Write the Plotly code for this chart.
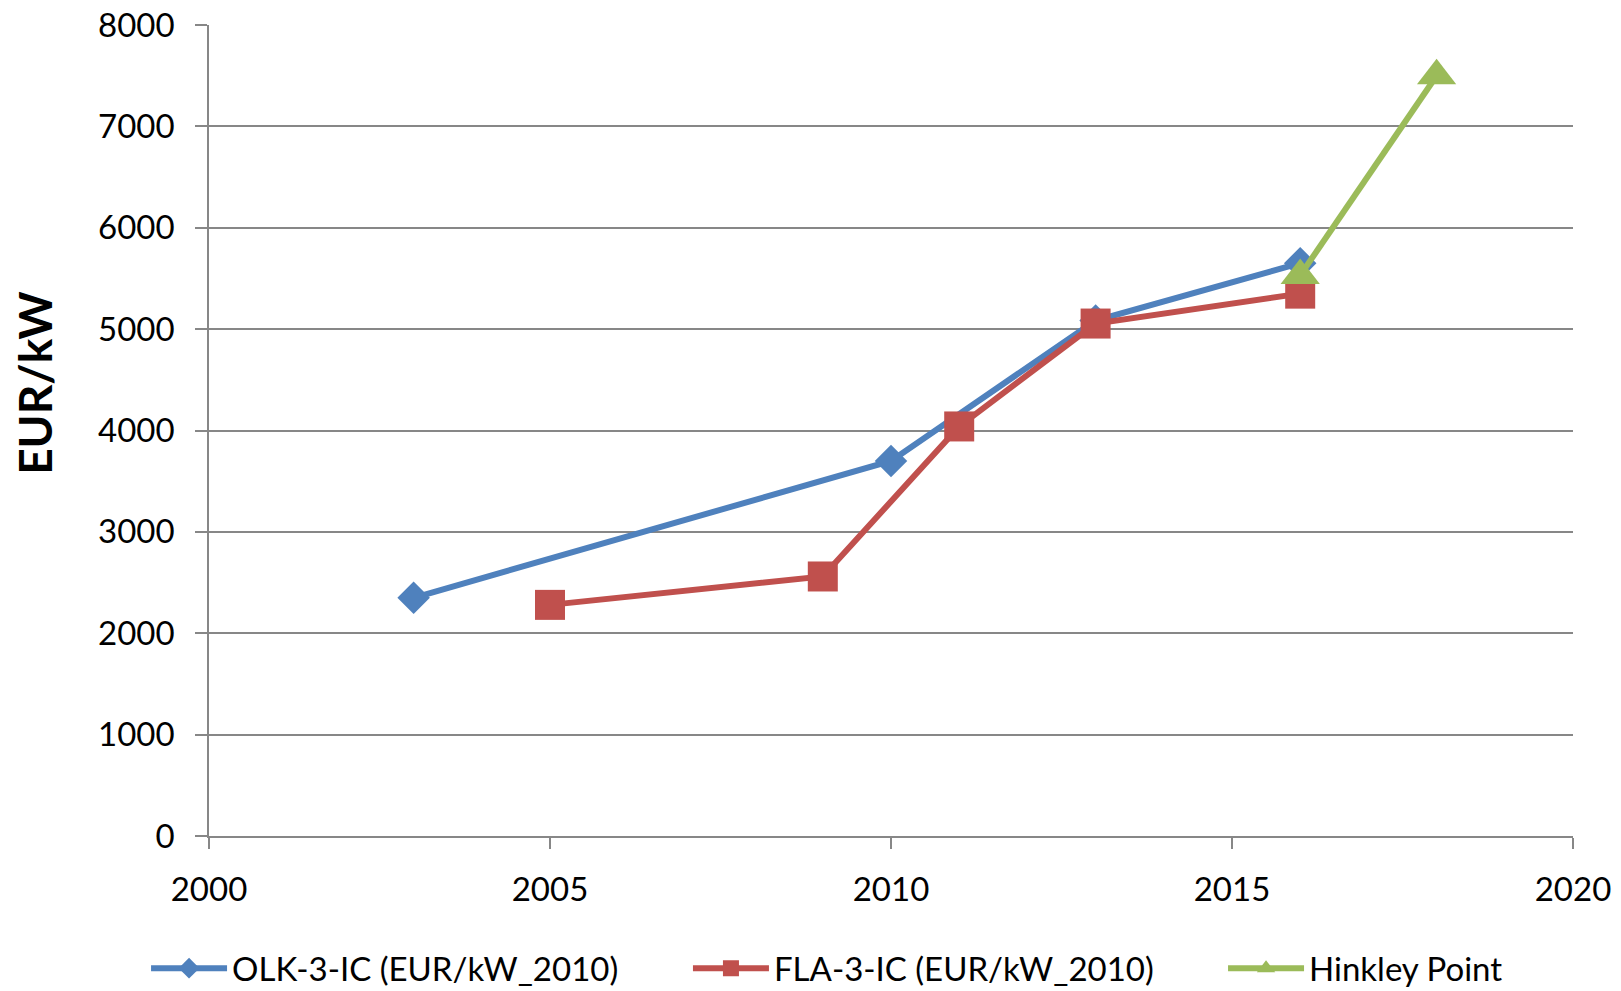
import plotly.graph_objects as go

# Overnight investment cost per kW (EUR, 2010 prices) by year
olk_years = [2003, 2010, 2013, 2016]
olk_cost = [2350, 3700, 5085, 5650]

fla_years = [2005, 2009, 2011, 2013, 2016]
fla_cost = [2280, 2560, 4040, 5055, 5350]

hinkley_years = [2016, 2018]
hinkley_cost = [5530, 7500]

series_names = ["OLK-3-IC (EUR/kW_2010)", "FLA-3-IC (EUR/kW_2010)", "Hinkley Point"]
x_ticks = [2000, 2005, 2010, 2015, 2020]
y_ticks = [0, 1000, 2000, 3000, 4000, 5000, 6000, 7000, 8000]

BLUE = "#4F81BD"
RED = "#C0504D"
GREEN = "#9BBB59"
GRID = "#878787"
FONT = "Lato"

fig = go.Figure()
fig.add_trace(go.Scatter(
    x=olk_years, y=olk_cost, name=series_names[0], mode="lines+markers",
    line=dict(color=BLUE, width=6),
    marker=dict(symbol="diamond", size=25, color=BLUE),
    legend="legend",
))
fig.add_trace(go.Scatter(
    x=fla_years, y=fla_cost, name=series_names[1], mode="lines+markers",
    line=dict(color=RED, width=6),
    marker=dict(symbol="square", size=30, color=RED),
    legend="legend2",
))
fig.add_trace(go.Scatter(
    x=hinkley_years, y=hinkley_cost, name=series_names[2], mode="lines+markers",
    line=dict(color=GREEN, width=6),
    marker=dict(symbol="triangle-up", size=34, color=GREEN),
    legend="legend3",
))

# one legend box per series so each entry sits at its own spot along the bottom
legend_style = dict(
    orientation="h", xref="container", yref="container",
    xanchor="left", y=0.023, yanchor="middle",
    itemwidth=76, bgcolor="rgba(0,0,0,0)",
    font=dict(family=FONT, size=33, color="#000000"),
    itemclick=False, itemdoubleclick=False,
)

fig.update_layout(
    width=1621, height=991,
    margin=dict(l=209, r=48, t=25, b=155, autoexpand=False),
    paper_bgcolor="white", plot_bgcolor="white",
    font=dict(family=FONT, size=33, color="#000000"),
    showlegend=True,
    legend=dict(legend_style, x=0.0901),
    legend2=dict(legend_style, x=0.4244),
    legend3=dict(legend_style, x=0.7545),
)
fig.update_xaxes(
    range=[2000, 2020], tickvals=x_ticks, ticktext=[str(v) for v in x_ticks],
    showgrid=False, zeroline=False,
    showline=True, linecolor=GRID, linewidth=1.5,
    ticks="outside", ticklen=11, tickcolor=GRID, tickwidth=1.5,
    ticklabelstandoff=13,
)
fig.update_yaxes(
    range=[0, 8000], tickvals=y_ticks, ticktext=[str(v) for v in y_ticks],
    showgrid=True, gridcolor=GRID, gridwidth=1.5, zeroline=False,
    showline=True, linecolor=GRID, linewidth=1.5,
    ticks="outside", ticklen=12, tickcolor=GRID, tickwidth=1.5,
    ticklabelstandoff=14,
)

# axis title placed beside the tick labels
fig.add_annotation(
    text="<b>EUR/kW</b>", textangle=-90,
    xref="paper", yref="paper", x=-0.128, y=0.558,
    xanchor="center", yanchor="middle", showarrow=False,
    font=dict(family=FONT, size=46, color="#000000"),
)

fig.write_html("out.html")
